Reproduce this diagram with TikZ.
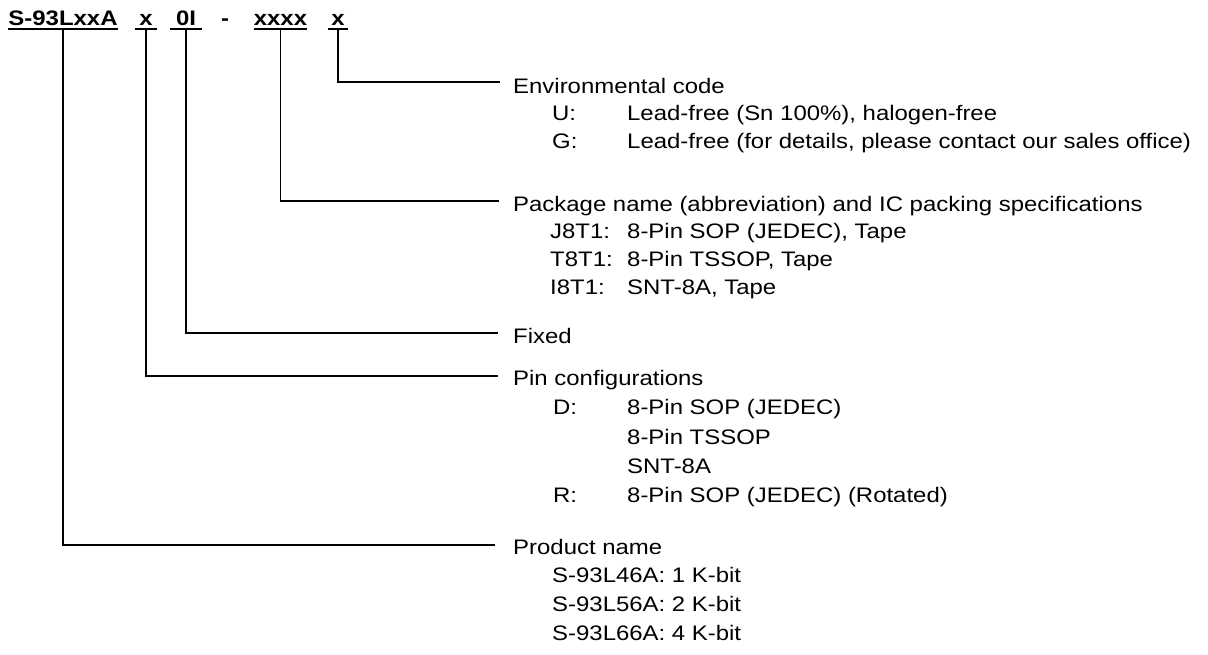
\documentclass[tikz,border=0pt]{standalone}
\usepackage{fontspec}
\setmainfont[FakeStretch=1.14]{Liberation Sans}
\usetikzlibrary{calc, positioning}

\begin{document}
\begin{tikzpicture}[x=1pt, y=-1pt,
    code/.style={font=\fontsize{21}{25}\selectfont\bfseries, inner sep=0pt,
                 text depth=4pt, anchor=base},
    lead/.style={draw, line width=1.8pt},
    grp/.style={font=\fontsize{21}{#1}\selectfont, inner sep=0pt, anchor=base west},
    grp/.default=28.5]

\useasboundingbox (0,0) rectangle (1208,654);

%% Part number
\node[code, minimum width=108pt] (name) at (63,25)    {S-93LxxA};
\node[code, minimum width=22pt]  (pin)  at (146,25)   {x};
\node[code, minimum width=31pt]  (fix)  at (186,25)   {0I};
\node[code]                      (dash) at (225,25)   {-};
\node[code, minimum width=51pt]  (pkg)  at (280.5,25) {xxxx};
\node[code, minimum width=20pt]  (env)  at (338,25)   {x};

%% Underlines
\foreach \n in {name,pin,fix,pkg,env}
    \draw[lead] (\n.south west) -- (\n.south east);

%% Line ends
\coordinate (envend)  at (500,82);
\coordinate (pkgend)  at (499,201);
\coordinate (fixend)  at (498,333);
\coordinate (pinend)  at (498,376);
\coordinate (nameend) at (495,545);

%% Leads
\draw[lead] (env.south)  |- (envend);
\draw[lead] (pkg.south)  |- (pkgend);
\draw[lead] (fix.south)  |- (fixend);
\draw[lead] (pin.south)  |- (pinend);
\draw[lead] (name.south) |- (nameend);

%% Environmental code
\node[grp=27.8] (envlbl) at (513,93) {\begin{tabular}[t]{@{}p{39pt}@{}p{75pt}@{}l@{}}
    \multicolumn{3}{@{}l@{}}{Environmental code}\\
    & U: & Lead-free (Sn 100\%), halogen-free\\
    & G: & Lead-free (for details, please contact our sales office)
  \end{tabular}};

%% Package name
\node[grp=27.7] (pkglbl) at (513,211) {\begin{tabular}[t]{@{}p{37pt}@{}p{77pt}@{}l@{}}
    \multicolumn{3}{@{}l@{}}{Package name (abbreviation) and IC packing specifications}\\
    & J8T1: & 8-Pin SOP (JEDEC), Tape\\
    & T8T1: & 8-Pin TSSOP, Tape\\
    & I8T1: & SNT-8A, Tape
  \end{tabular}};

%% Fixed
\node[grp] (fixlbl) at (513,343) {Fixed};

%% Pin configurations
\node[grp=29.3] (pinlbl) at (513,385.5) {\begin{tabular}[t]{@{}p{40pt}@{}p{74pt}@{}l@{}}
    \multicolumn{3}{@{}l@{}}{Pin configurations}\\
    & D: & 8-Pin SOP (JEDEC)\\
    &    & 8-Pin TSSOP\\
    &    & SNT-8A\\
    & R: & 8-Pin SOP (JEDEC) (Rotated)
  \end{tabular}};

%% Product name
\node[grp=28.7] (namelbl) at (513,554) {\begin{tabular}[t]{@{}p{39pt}@{}l@{}}
    \multicolumn{2}{@{}l@{}}{Product name}\\
    & S-93L46A: 1 K-bit\\
    & S-93L56A: 2 K-bit\\
    & S-93L66A: 4 K-bit
  \end{tabular}};

\end{tikzpicture}
\end{document}
